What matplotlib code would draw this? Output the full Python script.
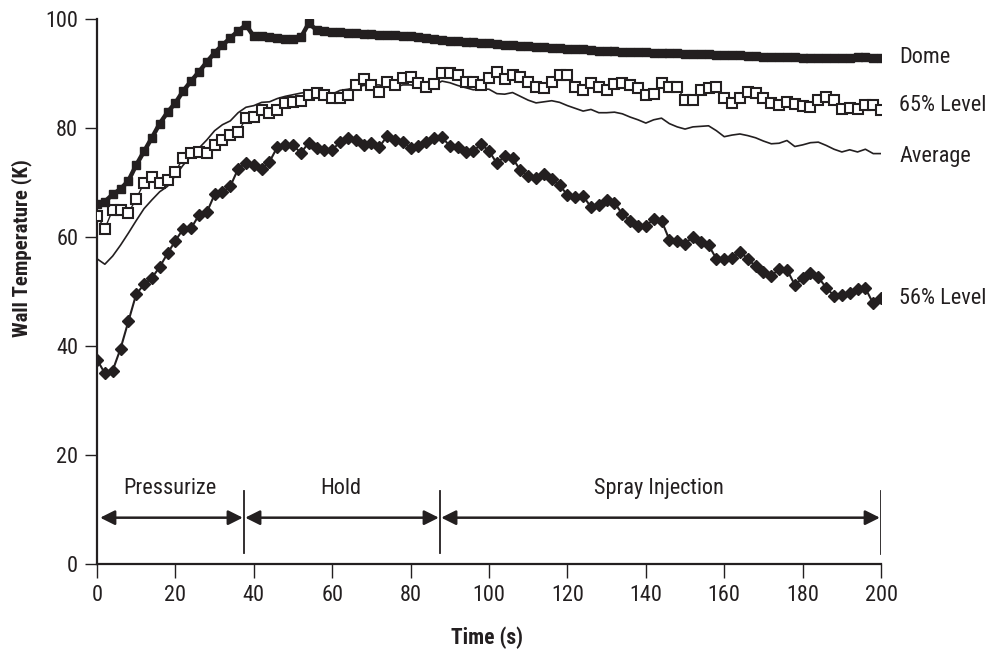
import matplotlib
matplotlib.use("Agg")
import matplotlib.pyplot as plt

# Konstanten
INK = '#231f20'
FONT = ['Roboto Condensed', 'Archivo Narrow', 'PT Sans Narrow', 'DejaVu Sans']
FIG_SIZE = (10.02, 6.54)
TEXT_SIZE = 16

# Daten (Zeit in s, Temperaturen in K), Abtastung alle 2 s
time_s = list(range(0, 201, 2))

dome = [66, 66.5, 67.8, 68.8, 70.3, 73.2, 75.7, 78.2, 80.8, 82.9,
        84.6, 86.8, 88.6, 90.3, 92.1, 93.8, 95.2, 96.5, 97.8, 98.9,
        96.8, 96.8, 96.6, 96.5, 96.4, 96.4, 96.6, 99.2, 98.0, 97.8,
        97.6, 97.6, 97.5, 97.4, 97.3, 97.2, 97.1, 97.0, 97.0, 96.9,
        96.8, 96.7, 96.5, 96.3, 96.1, 96.0, 95.9, 95.8, 95.7, 95.6,
        95.5, 95.4, 95.3, 95.2, 95.1, 95.0, 94.9, 94.8, 94.7, 94.6,
        94.5, 94.5, 94.4, 94.3, 94.2, 94.2, 94.1, 94.0, 94.0, 93.9,
        93.9, 93.8, 93.8, 93.7, 93.7, 93.6, 93.6, 93.5, 93.5, 93.4,
        93.4, 93.3, 93.3, 93.2, 93.2, 93.1, 93.1, 93.0, 93.0, 93.0,
        92.9, 92.9, 92.9, 92.8, 92.8, 92.8, 92.8, 93.0, 93.0, 92.8,
        92.9]

level_65 = [63.9, 61.5, 65.0, 65.0, 64.4, 67.0, 69.9, 71.0, 69.9, 70.5,
            72.0, 74.5, 75.4, 75.6, 75.5, 76.8, 77.8, 78.7, 79.2, 81.8,
            82.0, 83.3, 82.7, 83.3, 84.6, 84.8, 85.0, 86.0, 86.4, 86.0,
            85.5, 85.5, 86.0, 87.9, 89.0, 87.9, 86.6, 88.4, 87.9, 89.2,
            89.4, 88.3, 87.5, 88.0, 90.0, 90.0, 89.7, 88.4, 88.4, 87.9,
            89.2, 90.2, 89.0, 89.7, 89.3, 88.4, 87.5, 87.3, 88.4, 89.7,
            89.7, 87.5, 87.0, 88.2, 87.5, 87.0, 88.0, 88.2, 87.9, 87.3,
            86.0, 86.2, 88.2, 87.5, 87.5, 85.1, 85.1, 87.0, 87.3, 87.5,
            85.5, 84.6, 85.5, 86.6, 86.5, 85.5, 84.6, 84.2, 84.8, 84.4,
            84.0, 83.9, 85.1, 85.6, 85.2, 83.5, 83.7, 83.5, 84.2, 84.2,
            83.3]

average = [56.0, 55.0, 56.5, 58.5, 60.7, 63.0, 65.2, 66.8, 68.3, 69.3,
           71.3, 73.2, 74.9, 76.3, 77.8, 79.5, 80.6, 81.3, 82.8, 83.8,
           84.1, 84.7, 84.8, 85.4, 85.8, 86.1, 86.4, 86.6, 86.8, 86.8,
           86.2, 86.9, 87.1, 87.4, 87.8, 87.9, 87.9, 87.5, 87.5, 87.9,
           87.9, 87.7, 87.3, 87.8, 88.6, 88.3, 87.8, 87.4, 87.0, 87.2,
           87.1, 86.3, 86.2, 86.5, 85.8, 85.1, 84.6, 84.8, 85.0, 84.7,
           84.1, 83.6, 83.1, 83.4, 82.8, 82.8, 82.9, 82.6, 82.0, 81.5,
           80.9, 81.5, 81.8, 80.8, 80.2, 79.8, 80.2, 80.3, 80.4, 79.5,
           78.4, 78.7, 78.9, 78.6, 78.2, 77.6, 77.1, 77.2, 77.7, 76.6,
           76.9, 77.3, 77.4, 76.8, 76.1, 75.6, 76.0, 75.6, 76.1, 75.3,
           75.3]

level_56 = [37.5, 35.0, 35.5, 39.5, 44.5, 49.5, 51.3, 52.5, 54.5, 57.0,
            59.3, 61.5, 61.6, 64.0, 64.5, 67.8, 68.2, 69.3, 72.5, 73.6,
            73.2, 72.5, 73.8, 76.5, 76.8, 76.9, 75.4, 77.3, 76.4, 76.0,
            76.0, 77.4, 78.2, 77.8, 76.8, 77.2, 76.5, 78.5, 77.8, 77.5,
            76.3, 76.7, 77.4, 78.2, 78.3, 76.7, 76.5, 75.6, 75.8, 77.0,
            75.8, 73.5, 74.8, 74.5, 72.2, 71.2, 70.8, 71.6, 70.6, 69.5,
            67.7, 67.3, 67.5, 65.5, 65.8, 66.8, 66.3, 64.2, 63.0, 62.0,
            62.0, 63.3, 63.0, 59.5, 59.2, 58.8, 60.0, 59.0, 58.5, 56.0,
            56.0, 56.1, 57.3, 56.0, 54.6, 53.5, 52.8, 54.2, 54.0, 51.2,
            52.5, 53.4, 52.6, 50.7, 49.2, 49.3, 49.8, 50.5, 50.6, 47.8,
            48.8]

series_labels = ['Dome', '65% Level', 'Average', '56% Level']
label_y = [93.0, 84.2, 74.7, 48.8]

phase_names = ['Pressurize', 'Hold', 'Spray Injection']
phase_bounds = [0.5, 37.5, 87.5, 200]


def plot_wall_temperature():
    fig = plt.figure(figsize=FIG_SIZE, dpi=100)
    ax = fig.add_axes([0.0968, 0.1376, 0.7825, 0.8334])

    ax.plot(time_s, average, color=INK, lw=1.2, zorder=2)
    ax.plot(time_s, level_56, color=INK, lw=1.5, marker='D', ms=6.3,
            mfc=INK, mec=INK, zorder=3)
    ax.plot(time_s, level_65, color=INK, lw=1.0, marker='s', ms=6.8,
            mfc='white', mec=INK, mew=1.5, zorder=4)
    ax.plot(time_s, dome, color=INK, lw=3.2, marker='s', ms=6.2,
            mfc=INK, mec=INK, zorder=5)

    # Beschriftung der Kurven rechts
    for name, yv in zip(series_labels, label_y):
        ax.text(204.6, yv, name, fontsize=TEXT_SIZE, family=FONT, color=INK,
                va='center', ha='left', clip_on=False)

    # Phasen mit Doppelpfeilen
    for x in phase_bounds[1:]:
        lw = 2.0 if x == 200 else 1.3
        ax.plot([x, x], [2, 13.4], color=INK, lw=lw, zorder=3)
    for name, x0, x1 in zip(phase_names, phase_bounds[:-1], phase_bounds[1:]):
        ax.annotate('', xy=(x1 - 0.3, 8.5), xytext=(x0 + 0.3, 8.5),
                    arrowprops=dict(arrowstyle='<|-|>', color=INK, lw=1.8,
                                    mutation_scale=22, shrinkA=0, shrinkB=0))
        ax.text((x0 + x1) / 2 - 0.3, 13.8, name, fontsize=TEXT_SIZE,
                family=FONT, color=INK, ha='center', va='center')

    ax.set_xlim(0, 200)
    ax.set_ylim(0, 100)
    ax.set_xticks(range(0, 201, 20))
    ax.set_yticks(range(0, 101, 20))
    for side in ['top', 'right']:
        ax.spines[side].set_visible(False)
    for side in ['left', 'bottom']:
        ax.spines[side].set_linewidth(1.6)
        ax.spines[side].set_color(INK)
    ax.tick_params(axis='y', direction='out', length=8.5, width=1.0,
                   pad=5, labelsize=TEXT_SIZE, colors=INK)
    ax.tick_params(axis='x', direction='out', length=10, width=1.0,
                   pad=5, labelsize=TEXT_SIZE, colors=INK)
    for lbl in ax.get_xticklabels() + ax.get_yticklabels():
        lbl.set_family(FONT)

    fig.text(487 / 1002, 1 - 638 / 654, 'Time (s)', fontsize=15.5,
             fontweight='bold', family=FONT, color=INK,
             ha='center', va='center')
    fig.text(22 / 1002, 1 - 248 / 654, 'Wall Temperature (K)', fontsize=15,
             fontweight='bold', family=FONT, color=INK, rotation=90,
             ha='center', va='center')

    fig.savefig('out.png', dpi=100)


def main():
    plot_wall_temperature()


if __name__ == "__main__":
    main()
